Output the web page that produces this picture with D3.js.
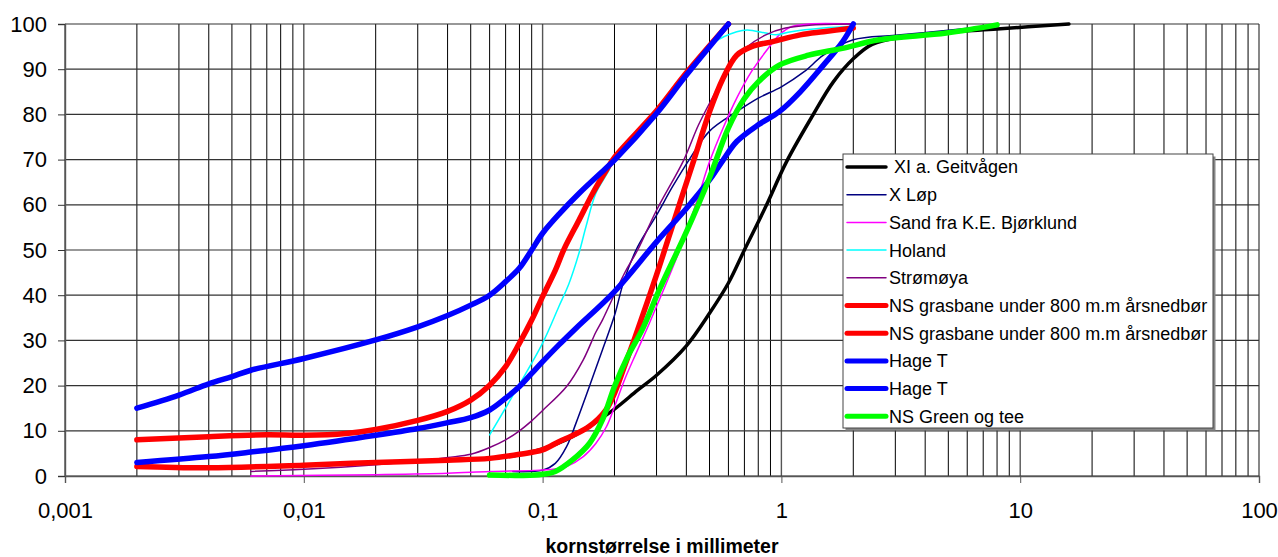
<!DOCTYPE html>
<html>
<head>
<meta charset="utf-8">
<script src="https://cdn.jsdelivr.net/npm/d3@7"></script>
<style>
  body { margin: 0; background: #fff; }
  svg { display: block; font-family: Arial, "Liberation Sans", sans-serif; }
  .leg text { white-space: pre; }
</style>
</head>
<body>
<div id="chart"></div>
<script>
// grain size (mm) vs cumulative passing (%)
const seriesNames = [
  " XI a. Geitvågen", "X Løp", "Sand fra K.E. Bjørklund", "Holand", "Strømøya",
  "NS grasbane under 800 m.m årsnedbør", "NS grasbane under 800 m.m årsnedbør",
  "Hage T", "Hage T", "NS Green og tee"
];

const geitvagen = [[0.075,4.4],[0.1,6],[0.125,8],[0.15,10.3],[0.2,14.8],[0.25,19],[0.3,22.3],[0.4,28.8],
  [0.5,36],[0.6,42.7],[0.7,50],[0.86,59.6],[1.05,69.5],[1.35,79.7],[1.65,87.2],[2,92.3],[2.4,95.5],
  [3.3,97.2],[5,98.2],[8,98.9],[16,100]];
const xLop = [[0.075,1],[0.1,1.3],[0.113,2.8],[0.126,6.5],[0.138,11.7],[0.157,19.8],[0.178,27.9],[0.2,35.5],
  [0.22,43.5],[0.25,50.7],[0.3,57.7],[0.35,64],[0.41,69.9],[0.5,76.3],[0.65,80.6],[0.8,83.6],[1,86.1],
  [1.25,89.5],[1.5,93.1],[2,96.5],[3,97.5],[5,98.6],[8,99.8]];
const sand = [[0.006,0],[0.02,0.3],[0.04,0.6],[0.06,1],[0.097,1.3],[0.115,1.6],[0.126,2.1],[0.148,4.3],
  [0.167,7.2],[0.185,10.9],[0.2,15.3],[0.22,21.2],[0.25,27.9],[0.28,33.8],[0.35,46],[0.4,54],[0.45,62],
  [0.5,69.5],[0.57,77],[0.65,83.6],[0.75,89.5],[0.86,93.9],[0.98,97.6],[1.1,99.4],[1.3,100],[2,100]];
const holand = [[0.06,9.1],[0.08,20.3],[0.1,29.4],[0.117,37.5],[0.129,42.6],[0.142,49.3],[0.152,55.2],
  [0.167,62.5],[0.19,67.7],[0.2,70.3],[0.3,80.8],[0.44,91],[0.53,96.1],[0.65,98.3],[0.72,98.7],
  [0.86,98],[0.95,97.6],[1.1,98.3],[1.5,99.1],[2,99.5]];
const stromoya = [[0.006,1],[0.01,1.5],[0.02,2.5],[0.03,3.3],[0.04,4.1],[0.05,4.8],[0.06,6.3],[0.07,8],
  [0.08,10],[0.09,12.2],[0.1,14.5],[0.126,19.8],[0.148,25.7],[0.167,31.8],[0.178,34.5],[0.22,44.8],
  [0.25,50],[0.3,58.8],[0.39,69.9],[0.45,77.7],[0.53,85],[0.6,90.5],[0.7,94.5],[0.86,97.6],[1.04,99.1],
  [1.35,99.8],[2,100]];
const grasbane1 = [[0.002,8],[0.004,8.7],[0.007,9.1],[0.01,9],[0.015,9.4],[0.02,10.3],[0.03,12.3],
  [0.04,14.3],[0.05,16.8],[0.06,20.1],[0.07,24.2],[0.08,29.4],[0.09,34.5],[0.1,39.7],[0.113,45.5],
  [0.123,50.2],[0.142,56.6],[0.162,62.5],[0.185,67.7],[0.2,70.5],[0.3,80.8],[0.4,89.2],[0.6,100]];
const grasbane2 = [[0.002,2.1],[0.004,1.8],[0.01,2.4],[0.02,3],[0.04,3.5],[0.06,3.9],[0.08,4.8],[0.1,5.8],
  [0.117,7.6],[0.133,8.9],[0.157,11],[0.184,14.6],[0.2,18.3],[0.22,24.2],[0.245,31],[0.3,44.5],
  [0.36,57.4],[0.43,69.9],[0.5,80.6],[0.57,88],[0.65,93.1],[0.75,95],[0.92,96.1],[1.2,97.6],[1.5,98.3],[2,99.1]];
const hage1 = [[0.002,15],[0.003,17.9],[0.004,20.4],[0.005,22],[0.006,23.4],[0.01,26],[0.02,30.1],
  [0.03,33],[0.04,35.5],[0.05,37.8],[0.06,40],[0.07,43],[0.08,46],[0.09,50],[0.1,53.7],[0.118,58.1],
  [0.142,62.5],[0.185,68.2],[0.2,69.9],[0.3,80.2],[0.4,88.7],[0.6,100]];
const hage2 = [[0.002,3],[0.004,4.3],[0.006,5.3],[0.01,6.7],[0.02,9],[0.03,10.5],[0.04,11.8],[0.05,12.9],
  [0.06,14.6],[0.07,17.2],[0.08,19.8],[0.09,22.7],[0.1,25.3],[0.117,29],[0.138,32.7],[0.2,40.8],
  [0.3,51.8],[0.4,59.2],[0.5,65.5],[0.57,69.9],[0.65,74],[0.8,77.7],[0.98,80.6],[1.2,85],[1.5,90.9],
  [1.8,96],[2,100]];
const greenTee = [[0.06,0.2],[0.097,0.3],[0.113,1],[0.133,3.5],[0.157,7.2],[0.178,12.4],[0.2,19.8],
  [0.227,26.4],[0.262,32.5],[0.31,41.5],[0.4,54],[0.5,66],[0.6,77],[0.7,83.5],[0.8,87.2],[0.98,90.9],
  [1.3,93.1],[1.8,94.6],[2.56,96.5],[4.9,98],[8,99.8]];

const seriesData = [geitvagen, xLop, sand, holand, stromoya, grasbane1, grasbane2, hage1, hage2, greenTee];
const seriesColors = ["#000000", "#000080", "#ff00ff", "#00ffff", "#800080",
  "#ff0000", "#ff0000", "#0000ff", "#0000ff", "#00ff00"];
const seriesWidths = [3.5, 1.5, 1.5, 1.5, 1.5, 5.5, 5.5, 5.5, 5.5, 5.5];

const xTickValues = [0.001, 0.01, 0.1, 1, 10, 100];
const xTickLabels = ["0,001", "0,01", "0,1", "1", "10", "100"];
const yTickValues = [0, 10, 20, 30, 40, 50, 60, 70, 80, 90, 100];
const xTitle = "kornstørrelse i millimeter";

const W = 1278, H = 557;
const margin = {left: 65, right: 19, top: 24, bottom: 81};

const svg = d3.select("#chart").append("svg")
  .attr("width", W)
  .attr("height", H);

const x = d3.scaleLog().domain([0.001, 100]).range([margin.left, W - margin.right]);
const y = d3.scaleLinear().domain([0, 100]).range([H - margin.bottom, margin.top]);

// minor + major vertical grid (1..9 per decade)
const gridX = [];
for (let e = -3; e < 2; e++) {
  for (let m = 1; m < 10; m++) gridX.push(m * Math.pow(10, e));
}
gridX.push(100);

const grid = svg.append("g").attr("class", "grid");
grid.selectAll("line.v")
  .data(gridX)
  .join("line")
  .attr("class", "v")
  .attr("x1", d => x(d)).attr("x2", d => x(d))
  .attr("y1", y(0)).attr("y2", y(100))
  .attr("stroke", d => xTickValues.includes(d) ? "#555" : "#000")
  .attr("stroke-width", d => xTickValues.includes(d) ? 1.4 : 1);

grid.selectAll("line.h")
  .data(yTickValues)
  .join("line")
  .attr("class", "h")
  .attr("x1", margin.left).attr("x2", W - margin.right)
  .attr("y1", d => y(d)).attr("y2", d => y(d))
  .attr("stroke", "#333")
  .attr("stroke-width", 1.2);

// axes
const xAxis = d3.axisBottom(x)
  .tickValues(xTickValues)
  .tickFormat((d, i) => xTickLabels[i])
  .tickSize(7)
  .tickPadding(19);
svg.append("g")
  .attr("transform", "translate(0," + y(0) + ")")
  .call(xAxis)
  .call(g => g.select(".domain").attr("stroke", "#555").attr("stroke-width", 1.4))
  .call(g => g.selectAll(".tick line").attr("stroke", "#555"))
  .call(g => g.selectAll("text").attr("font-size", 22).attr("fill", "#000")
    .attr("font-family", "Arial, 'Liberation Sans', sans-serif"));

const yAxis = d3.axisLeft(y)
  .tickValues(yTickValues)
  .tickSize(7)
  .tickPadding(11);
svg.append("g")
  .attr("transform", "translate(" + margin.left + ",0)")
  .call(yAxis)
  .call(g => g.select(".domain").attr("stroke", "#555").attr("stroke-width", 1.4))
  .call(g => g.selectAll(".tick line").attr("stroke", "#333"))
  .call(g => g.selectAll("text").attr("font-size", 22).attr("fill", "#000")
    .attr("font-family", "Arial, 'Liberation Sans', sans-serif"));

svg.append("text")
  .attr("x", (x(0.001) + x(100)) / 2)
  .attr("y", 553)
  .attr("text-anchor", "middle")
  .attr("font-size", 19.5)
  .attr("font-weight", "bold")
  .text(xTitle);

// curves (smoothed like the spreadsheet's line option)
const line = d3.line()
  .x(d => x(d[0]))
  .y(d => y(d[1]))
  .curve(d3.curveCatmullRom.alpha(0.5));

svg.append("g")
  .selectAll("path")
  .data(seriesData)
  .join("path")
  .attr("d", line)
  .attr("fill", "none")
  .attr("stroke", (d, i) => seriesColors[i])
  .attr("stroke-width", (d, i) => seriesWidths[i])
  .attr("stroke-linejoin", "round")
  .attr("stroke-linecap", "round");

// legend
const leg = svg.append("g").attr("class", "leg");
const lx = 843, ly = 154, lw = 370, lh = 274;
leg.append("rect")
  .attr("x", lx + 2.5).attr("y", ly + 2.5)
  .attr("width", lw).attr("height", lh)
  .attr("fill", "#888");
leg.append("rect")
  .attr("x", lx).attr("y", ly)
  .attr("width", lw).attr("height", lh)
  .attr("fill", "#fff")
  .attr("stroke", "#444")
  .attr("stroke-width", 1);

const rowH = 27.7;
const entry = leg.selectAll("g.entry")
  .data(seriesNames)
  .join("g")
  .attr("class", "entry")
  .attr("transform", (d, i) => "translate(0," + (ly + 13 + i * rowH) + ")");
entry.append("line")
  .attr("x1", lx + 4).attr("x2", lx + 43)
  .attr("stroke", (d, i) => seriesColors[i])
  .attr("stroke-width", (d, i) => seriesWidths[i] < 2 ? 1.5 : (seriesWidths[i] < 4 ? 3.5 : 5))
  .attr("stroke-linecap", "round");
entry.append("text")
  .attr("x", lx + 46)
  .attr("dy", "0.36em")
  .attr("font-size", 18)
  .text(d => d);
</script>
</body>
</html>
